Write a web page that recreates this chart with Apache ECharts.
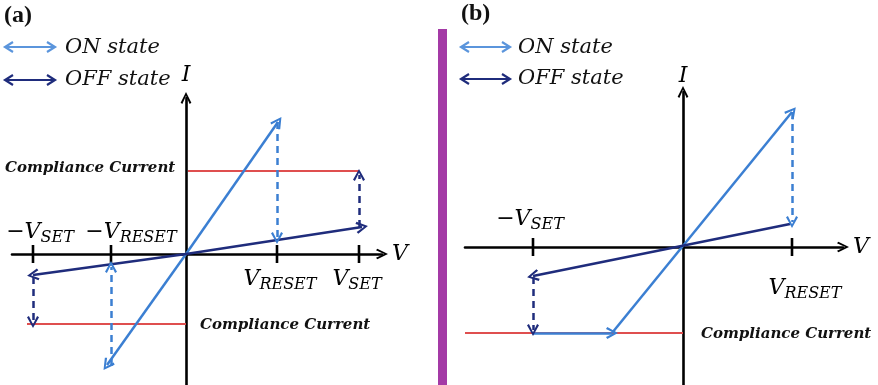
<!DOCTYPE html>
<html><head><meta charset="utf-8">
<script src="https://cdn.jsdelivr.net/npm/echarts@6/dist/echarts.min.js"></script>
<style>html,body{margin:0;padding:0;background:#fff}#c{width:878px;height:385px}</style>
</head><body><div id="c"></div>
<script>
// ---------- data (V in arbitrary units, I in arbitrary units) ----------
// Panel (a): bipolar switching
const vTicksA = [-1.53, -0.75, 0.91, 1.73];
const tickMainA = ['\u2212V', '\u2212V', 'V', 'V'];
const tickSubA = ['SET', 'RESET', 'RESET', 'SET'];
const complianceA = [[[0.02, 0.83], [1.73, 0.83]], [[-1.59, -0.70], [0, -0.70]]];
const onStateA = [[[0, 0], [0.92, 1.32]], [[0, 0], [-0.79, -1.11]]];
const offStateA = [[[0, 0], [1.76, 0.27]], [[0, 0], [-1.53, -0.21]]];
const onJumpA = [[[0.91, 1.32], [0.91, 0.16]], [[-0.75, -1.12], [-0.75, -0.13]]];
const offJumpA = [[[1.73, 0.27], [1.73, 0.79]], [[-1.53, -0.23], [-1.53, -0.68]]];
// Panel (b): unipolar-type switching
const vTicksB = [-1.50, 1.09];
const tickMainB = ['\u2212V', 'V'];
const tickSubB = ['SET', 'RESET'];
const complianceB = [[[-2.18, -0.86], [0, -0.86]]];
const onStateB = [[[-0.71, -0.86], [1.09, 1.35]], [[-1.50, -0.86], [-0.71, -0.86]]];
const offStateB = [[[1.07, 0.23], [-1.50, -0.29]]];
const onJumpB = [[[1.09, 1.35], [1.09, 0.25]]];
const offJumpB = [[[-1.50, -0.30], [-1.50, -0.83]]];
const legendItems = ['ON state', 'OFF state'];

// ---------- styling ----------
const ON_C = '#3b7fd2', OFF_C = '#1f2c7c', RED = '#df4f4f', AX = '#000';
const SERIF = "'DejaVu Serif', serif";
const chevron = 'path://M0,10 L5,0 L10,10 L8.4,11.2 L5,3.6 L1.6,11.2 Z';

function linesSeries(segs, color, dashed, gi, symStart) {
  return {
    type: 'lines', coordinateSystem: 'cartesian2d', xAxisIndex: gi, yAxisIndex: gi,
    symbol: [symStart ? chevron : 'none', chevron], symbolSize: 12,
    lineStyle: { color: color, width: 2.5, type: dashed ? [7, 5] : 'solid', opacity: 1 },
    data: segs.map(s => ({ coords: s })), z: 5, silent: true
  };
}
function redSeries(segs, gi) {
  return {
    type: 'lines', coordinateSystem: 'cartesian2d', xAxisIndex: gi, yAxisIndex: gi,
    symbol: ['none', 'none'], lineStyle: { color: RED, width: 2.2, opacity: 1 },
    data: segs.map(s => ({ coords: s })), z: 3, silent: true
  };
}
function tickSeries(vals, gi) {
  return {
    type: 'scatter', xAxisIndex: gi, yAxisIndex: gi, symbol: 'rect', symbolSize: [2.6, 18],
    itemStyle: { color: AX, opacity: 1 }, data: vals.map(v => [v, 0]), z: 4, silent: true
  };
}
function tickLabelSeries(vals, mains, subs, offsets, gi) {
  return {
    type: 'scatter', xAxisIndex: gi, yAxisIndex: gi, symbolSize: 0, silent: true,
    itemStyle: { opacity: 1 },
    data: vals.map((v, i) => ({
      value: [v, 0],
      label: { show: true, position: 'inside', offset: offsets[i],
        formatter: mains[i] + '{s|' + subs[i] + '}',
        fontFamily: SERIF, fontStyle: 'italic', fontSize: 22, color: '#000', opacity: 1,
        rich: { s: { fontFamily: SERIF, fontStyle: 'italic', fontSize: 16, color: '#000', padding: [12, 0, 0, 0] } } }
    }))
  };
}
const axisArrow = 'path://M0,10 L5,0 L10,10 L8.4,11.2 L5,3.6 L1.6,11.2 Z';
function xAx(gi, min, max) {
  return { gridIndex: gi, type: 'value', min: min, max: max, splitLine: { show: false },
    axisTick: { show: false }, axisLabel: { show: false },
    axisLine: { onZero: true, lineStyle: { color: AX, width: 2.6 }, symbol: ['none', axisArrow], symbolSize: [13, 12] },
    name: 'V', nameGap: 10, nameTextStyle: { fontFamily: SERIF, fontStyle: 'italic', fontSize: 22, color: '#000' } };
}
function yAx(gi, min, max, gap) {
  return { gridIndex: gi, type: 'value', min: min, max: max, splitLine: { show: false },
    axisTick: { show: false }, axisLabel: { show: false },
    axisLine: { onZero: true, lineStyle: { color: AX, width: 2.6 }, symbol: ['none', axisArrow], symbolSize: [13, 12] },
    name: 'I', nameGap: gap, nameTextStyle: { fontFamily: SERIF, fontStyle: 'italic', fontSize: 22, color: '#000' } };
}
function dblArrow(x1, x2, y, color) {
  return { type: 'group', children: [
    { type: 'line', shape: { x1: x1 + 2, y1: y, x2: x2 - 2, y2: y }, style: { stroke: color, lineWidth: 2.2 } },
    { type: 'polyline', shape: { points: [[x1 + 8, y - 5], [x1, y], [x1 + 8, y + 5]] }, style: { stroke: color, lineWidth: 2.2, fill: null } },
    { type: 'polyline', shape: { points: [[x2 - 8, y - 5], [x2, y], [x2 - 8, y + 5]] }, style: { stroke: color, lineWidth: 2.2, fill: null } }
  ] };
}
function txt(x, y, s, size, opts) {
  return { type: 'text', x: x, y: y, style: Object.assign({ text: s, fontFamily: SERIF, fontStyle: 'italic', fontSize: size, fill: '#111', textVerticalAlign: 'middle' }, opts || {}) };
}

const chart = echarts.init(document.getElementById('c'), null, { renderer: 'canvas' });
chart.setOption({
  animation: false,
  grid: [
    { left: 12, width: 370, top: 98, height: 287 },
    { left: 465, width: 378, top: 92, height: 293 }
  ],
  xAxis: [xAx(0, -1.74, 1.96), xAx(1, -2.18, 1.60)],
  yAxis: [yAx(0, -1.31, 1.56, 12), yAx(1, -1.38, 1.55, 5)],
  series: [
    redSeries(complianceA, 0),
    linesSeries(onStateA, ON_C, false, 0),
    linesSeries(offStateA, OFF_C, false, 0),
    linesSeries(onJumpA, ON_C, true, 0),
    linesSeries(offJumpA, OFF_C, true, 0),
    tickSeries(vTicksA, 0),
    tickLabelSeries(vTicksA, tickMainA, tickSubA, [[7, -22], [20, -22], [3, 25], [-2, 25]], 0),
    redSeries(complianceB, 1),
    linesSeries(onStateB, ON_C, false, 1),
    linesSeries(offStateB, OFF_C, false, 1),
    linesSeries(onJumpB, ON_C, true, 1),
    linesSeries(offJumpB, OFF_C, true, 1),
    tickSeries(vTicksB, 1),
    tickLabelSeries(vTicksB, tickMainB, tickSubB, [[-3, -28], [13, 41]], 1)
  ],
  graphic: [
    { type: 'rect', shape: { x: 438, y: 29, width: 9, height: 356 }, style: { fill: '#a43aa6' } },
    { type: 'text', x: 4, y: 16, style: { text: '(a)', fontFamily: "'Liberation Serif', serif", fontWeight: 'bold', fontSize: 24, fill: '#111', textVerticalAlign: 'middle' } },
    { type: 'text', x: 461, y: 14, style: { text: '(b)', fontFamily: "'Liberation Serif', serif", fontWeight: 'bold', fontSize: 24, fill: '#111', textVerticalAlign: 'middle' } },
    dblArrow(5, 55, 47, '#5b95dc'), dblArrow(5, 55, 80, OFF_C),
    txt(65, 48, legendItems[0], 21), txt(65, 80, legendItems[1], 21),
    dblArrow(461, 510, 47, '#5b95dc'), dblArrow(461, 510, 79, OFF_C),
    txt(518, 48, legendItems[0], 21), txt(518, 79, legendItems[1], 21),
    txt(5, 168, 'Compliance Current', 15, { fontWeight: 'bold' }),
    txt(200, 325, 'Compliance Current', 15, { fontWeight: 'bold' }),
    txt(701, 334, 'Compliance Current', 15, { fontWeight: 'bold' })
  ]
});
</script></body></html>
